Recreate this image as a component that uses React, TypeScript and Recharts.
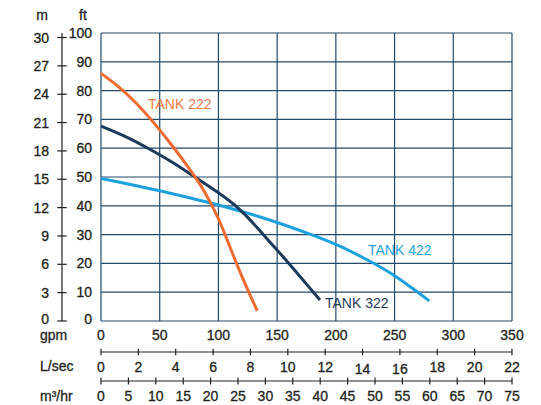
import React from "react";
import { LineChart, Line, XAxis, YAxis, CartesianGrid } from "recharts";

// tick values for every scale
const gpmTicks = [0, 50, 100, 150, 200, 250, 300, 350];
const ftTicks = [0, 10, 20, 30, 40, 50, 60, 70, 80, 90, 100];
const mTicks = [0, 3, 6, 9, 12, 15, 18, 21, 24, 27, 30];
const lsecTicks = [0, 2, 4, 6, 8, 10, 12, 14, 16, 18, 20, 22];
const m3hrTicks = [0, 5, 10, 15, 20, 25, 30, 35, 40, 45, 50, 55, 60, 65, 70, 75];

// pump curves, head (ft) against flow (gpm)
const tank222 = [
  { gpm: 0, ft: 86 },
  { gpm: 15, ft: 81.3 },
  { gpm: 30, ft: 75.6 },
  { gpm: 45, ft: 68.8 },
  { gpm: 60, ft: 61.2 },
  { gpm: 75, ft: 53 },
  { gpm: 88, ft: 45 },
  { gpm: 100, ft: 35.5 },
  { gpm: 110, ft: 25.5 },
  { gpm: 120, ft: 15.5 },
  { gpm: 133, ft: 3.5 },
];

const tank322 = [
  { gpm: 0, ft: 67.7 },
  { gpm: 20, ft: 64.2 },
  { gpm: 40, ft: 60 },
  { gpm: 60, ft: 55.3 },
  { gpm: 80, ft: 50 },
  { gpm: 100, ft: 44.5 },
  { gpm: 120, ft: 38 },
  { gpm: 140, ft: 29.2 },
  { gpm: 160, ft: 20 },
  { gpm: 175, ft: 12.8 },
  { gpm: 186.5, ft: 7.3 },
];

const tank422 = [
  { gpm: 0, ft: 49.5 },
  { gpm: 25, ft: 47.4 },
  { gpm: 50, ft: 45.2 },
  { gpm: 75, ft: 42.8 },
  { gpm: 100, ft: 40.3 },
  { gpm: 125, ft: 37.4 },
  { gpm: 150, ft: 34.2 },
  { gpm: 175, ft: 30.6 },
  { gpm: 200, ft: 26.6 },
  { gpm: 225, ft: 21.6 },
  { gpm: 250, ft: 15.7 },
  { gpm: 279.5, ft: 7 },
];

// the secondary flow scales need rows so their axes get ticks
const lsecRows = lsecTicks.map((v) => ({ v }));
const m3hrRows = m3hrTicks.map((v) => ({ v }));

const FT_PER_M = 3.28084;
const INK = "#231f20";
const GRID = "#24496b";
const FONT = "'Liberation Sans', Arial, Helvetica, sans-serif";

const txt = { fill: INK, fontSize: 14, fontFamily: FONT, stroke: INK, strokeWidth: 0.3 };

const GpmTick = (props: any) => (
  <text x={props.x} y={props.y + 19} textAnchor="middle" style={txt}>
    {props.payload.value}
  </text>
);

// ticks that cross the axis line
const makeCrossTick = (half: number, down: number, lowered: number[] = []) => (props: any) => {
  const { x, y, payload } = props;
  const extra = lowered.includes(payload.value) ? 2 : 0;
  return (
    <g>
      <line x1={x} x2={x} y1={y - half} y2={y + half} stroke={INK} strokeWidth={1.2} />
      <text x={x} y={y + down + extra} textAnchor="middle" style={txt}>
        {payload.value}
      </text>
    </g>
  );
};

const LsecTick = makeCrossTick(3.3, 19.5, [14, 16]);
const M3Tick = makeCrossTick(3.5, 20);

// the zero labels sit a little above their line
const leftDy = (v: number) => (v === 0 ? 3 : 5);

const FtTick = (props: any) => (
  <text x={props.x - 9} y={props.y + leftDy(props.payload.value)} textAnchor="end" style={txt}>
    {props.payload.value}
  </text>
);

const MTick = (props: any) => {
  const { x, y, payload } = props;
  return (
    <g>
      <line x1={x - 4.7} x2={x + 4.7} y1={y} y2={y} stroke={INK} strokeWidth={1.2} />
      <text x={x - 13} y={y + leftDy(payload.value)} textAnchor="end" style={txt}>
        {payload.value}
      </text>
    </g>
  );
};

const App = () => {
  return (
    <div style={{ position: "absolute", left: 0, top: 0 }}>
      <LineChart width={541} height={405} margin={{ top: 33, right: 29, bottom: 0, left: 0 }}>
        <CartesianGrid xAxisId="gpm" yAxisId="ft" stroke={GRID} strokeWidth={1.2} />

        <XAxis
          xAxisId="gpm"
          dataKey="gpm"
          type="number"
          domain={[0, 350]}
          ticks={gpmTicks}
          height={31}
          axisLine={false}
          tickLine={false}
          tickSize={0}
          tickMargin={0}
          tick={GpmTick}
          interval={0}
        />
        <XAxis
          xAxisId="lsec"
          dataKey="v"
          type="number"
          domain={[0, 22]}
          allowDataOverflow
          ticks={lsecTicks}
          height={29}
          axisLine={{ stroke: INK, strokeWidth: 1.2 }}
          tickLine={false}
          tickSize={0}
          tickMargin={0}
          tick={LsecTick}
          interval={0}
        />
        <XAxis
          xAxisId="m3hr"
          dataKey="v"
          type="number"
          domain={[0, 75]}
          allowDataOverflow
          ticks={m3hrTicks}
          height={24}
          axisLine={{ stroke: INK, strokeWidth: 1.2 }}
          tickLine={false}
          tickSize={0}
          tickMargin={0}
          tick={M3Tick}
          interval={0}
        />

        <YAxis
          yAxisId="ft"
          type="number"
          domain={[0, 100]}
          ticks={ftTicks}
          width={39}
          axisLine={false}
          tickLine={false}
          tickSize={0}
          tickMargin={0}
          tick={FtTick}
          interval={0}
        />
        <YAxis
          yAxisId="m"
          type="number"
          domain={[0, 100 / FT_PER_M]}
          allowDataOverflow
          ticks={mTicks}
          width={62}
          axisLine={{ stroke: INK, strokeWidth: 1.2 }}
          tickLine={false}
          tickSize={0}
          tickMargin={0}
          tick={MTick}
          interval={0}
        />

        {/* empty helper series: no values, they only feed the secondary axes */}
        <Line xAxisId="lsec" yAxisId="ft" data={lsecRows} dataKey="none" stroke="none"
          dot={false} activeDot={false} legendType="none" isAnimationActive={false} />
        <Line xAxisId="m3hr" yAxisId="ft" data={m3hrRows} dataKey="none" stroke="none"
          dot={false} activeDot={false} legendType="none" isAnimationActive={false} />

        <Line xAxisId="gpm" yAxisId="ft" data={tank422} dataKey="ft" type="natural"
          stroke="#1da1de" strokeWidth={3} dot={false} isAnimationActive={false} />
        <Line xAxisId="gpm" yAxisId="ft" data={tank322} dataKey="ft" type="natural"
          stroke="#1b3a5c" strokeWidth={3} dot={false} isAnimationActive={false} />
        <Line xAxisId="gpm" yAxisId="ft" data={tank222} dataKey="ft" type="natural"
          stroke="#ef6b30" strokeWidth={3} dot={false} isAnimationActive={false} />

        <g style={{ fontFamily: FONT, fontSize: 14 }}>
          <text x={42} y={19.5} textAnchor="middle" fill={INK} stroke={INK} strokeWidth={0.3}>m</text>
          <text x={83} y={19.5} textAnchor="middle" fill={INK} stroke={INK} strokeWidth={0.3}>ft</text>
          <text x={40} y={340} fill={INK} stroke={INK} strokeWidth={0.3}>gpm</text>
          <text x={40} y={371} fill={INK} stroke={INK} strokeWidth={0.3}>L/sec</text>
          <text x={40} y={401} fill={INK} stroke={INK} strokeWidth={0.3}>m³/hr</text>
          <text x={148} y={109} fill="#f07a40">TANK 222</text>
          <text x={325} y={308} fill="#1f3b5a">TANK 322</text>
          <text x={368} y={255} fill="#27a3dd">TANK 422</text>
        </g>
      </LineChart>
    </div>
  );
};

export default App;
